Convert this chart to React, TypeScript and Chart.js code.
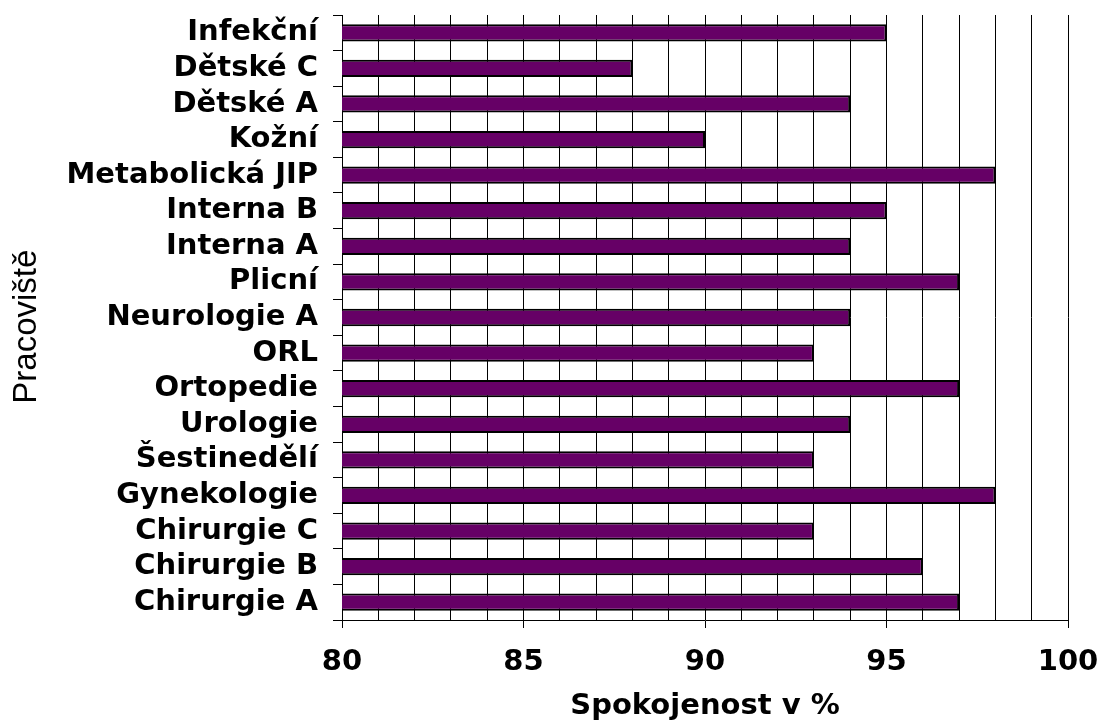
import React, { useEffect, useRef } from "react";
import { Chart, registerables } from "chart.js";

Chart.register(...registerables);

const categories = [
  "Infekční",
  "Dětské C",
  "Dětské A",
  "Kožní",
  "Metabolická JIP",
  "Interna B",
  "Interna A",
  "Plicní",
  "Neurologie A",
  "ORL",
  "Ortopedie",
  "Urologie",
  "Šestinedělí",
  "Gynekologie",
  "Chirurgie C",
  "Chirurgie B",
  "Chirurgie A",
];

const spokojenost = [95, 88, 94, 90, 98, 95, 94, 97, 94, 93, 97, 94, 93, 98, 93, 96, 97];

const xMin = 80;
const xMax = 100;
const xMajorStep = 5;

const xTitle = "Spokojenost v %";
const yTitle = "Pracoviště";

export default function App() {
  const ref = useRef<HTMLCanvasElement | null>(null);

  useEffect(() => {
    if (!ref.current) return;
    const chart = new Chart(ref.current, {
      type: "bar",
      data: {
        labels: categories,
        datasets: [
          {
            data: spokojenost,
            backgroundColor: "#660066",
            borderColor: "#000000",
            borderWidth: 2,
            borderSkipped: false,
            barPercentage: 0.5,
            categoryPercentage: 0.97,
          },
        ],
      },
      options: {
        indexAxis: "y",
        animation: false,
        responsive: false,
        maintainAspectRatio: false,
        layout: { padding: { left: 0, right: 0, top: 0, bottom: 0 } },
        plugins: {
          legend: { display: false },
          tooltip: { enabled: false },
        },
        scales: {
          x: {
            type: "linear",
            min: xMin,
            max: xMax,
            afterFit: (s: any) => {
              s.height = 724 - 620;
              s.paddingRight = 35;
              s.paddingLeft = 0;
            },
            ticks: {
              stepSize: 1,
              autoSkip: false,
              maxRotation: 0,
              padding: 17,
              color: "#000",
              font: { family: "DejaVu Sans", weight: "bold", size: 29 },
              callback: (v: any) => (Number(v) % xMajorStep === 0 ? String(v) : ""),
            },
            grid: {
              color: "#000",
              lineWidth: 1,
              drawOnChartArea: true,
              drawTicks: true,
              tickLength: 8,
              tickColor: (ctx: any) =>
                ctx.tick && Number(ctx.tick.value) % xMajorStep === 0 ? "#000" : "rgba(0,0,0,0)",
            },
            border: { display: true, color: "#000", width: 1 },
            title: {
              display: true,
              text: xTitle,
              color: "#000",
              font: { family: "DejaVu Sans", weight: "bold", size: 29 },
              padding: { top: 0, bottom: 0 },
            },
          },
          y: {
            afterFit: (s: any) => {
              s.width = 342;
              s.paddingTop = 15;
              s.paddingBottom = 0;
            },
            ticks: {
              autoSkip: false,
              padding: 15,
              color: "#000",
              font: { family: "DejaVu Sans", weight: "bold", size: 29 },
            },
            grid: {
              display: true,
              offset: true,
              drawOnChartArea: false,
              drawTicks: true,
              tickLength: 9,
              color: "#000",
              lineWidth: 1,
            },
            border: { display: true, color: "#000", width: 1 },
            title: {
              display: true,
              text: yTitle + "  ",
              color: "#000",
              font: { family: "Liberation Sans", weight: "normal", size: 33, lineHeight: 1 },
              padding: { top: 10, bottom: 0 },
            },
          },
        },
      },
    });
    return () => chart.destroy();
  }, []);

  return (
    <canvas
      ref={ref}
      width={1103}
      height={724}
      style={{ position: "fixed", left: 0, top: 0, width: 1103, height: 724, background: "#fff" }}
    />
  );
}
